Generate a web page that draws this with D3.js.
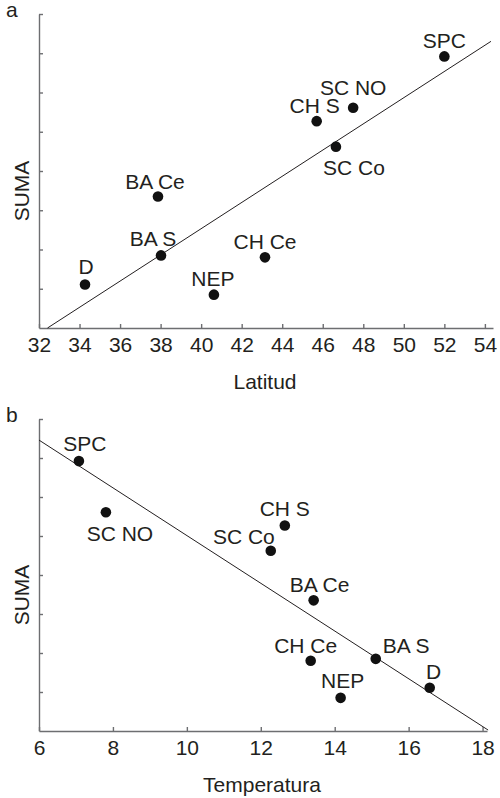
<!DOCTYPE html>
<meta charset="utf-8">
<style>
    body { margin: 0; background: #fff; }
    text { font-family: "Liberation Sans", Arial, sans-serif; fill: #231f20; }
    .axis path, .axis line { stroke: #6d6e71; stroke-width: 1.4; }
    .axis text { font-size: 21px; fill: #231f20; }
</style>
<body>
<script src="https://cdn.jsdelivr.net/npm/d3@7"></script>
<script>

    var width = 500,
        height = 798;

    // sites, shared by both panels
    var sites = ["D", "BA S", "BA Ce", "NEP", "CH Ce", "CH S", "SC Co", "SC NO", "SPC"];
    var latitud = [34.27, 38.02, 37.87, 40.63, 43.15, 45.7, 46.65, 47.5, 52.0];
    var temperatura = [16.57, 15.11, 13.43, 14.16, 13.35, 12.65, 12.27, 7.81, 7.08];
    var suma = [1.11, 1.85, 3.35, 0.85, 1.80, 5.27, 4.62, 5.61, 6.92];

    var latTicks = d3.range(32, 55, 2),
        tempTicks = d3.range(6, 19, 2),
        sumaTicks = d3.range(1, 9);

    // where each site label sits relative to its dot: [dx, dy, anchor]
    var labelPosA = {
        "SPC": [0, -8, "middle"], "SC NO": [0, -13, "middle"], "CH S": [-2, -8, "middle"],
        "SC Co": [18, 28, "middle"], "BA Ce": [-3, -8, "middle"], "BA S": [-8, -9, "middle"],
        "D": [1, -10, "middle"], "NEP": [-1, -9, "middle"], "CH Ce": [0, -8, "middle"]
    };
    var labelPosB = {
        "SPC": [6, -10, "middle"], "SC NO": [14, 29, "middle"], "CH S": [0, -9, "middle"],
        "SC Co": [4, -7, "end"], "BA Ce": [6, -8, "middle"], "CH Ce": [-5, -8, "middle"],
        "BA S": [7, -6, "start"], "D": [4, -9, "middle"], "NEP": [2, -10, "middle"]
    };

    function linReg(xs, ys) {
        var mx = d3.mean(xs), my = d3.mean(ys);
        var sxy = d3.sum(xs, function(d, i) { return (d - mx) * (ys[i] - my); });
        var sxx = d3.sum(xs, function(d) { return (d - mx) * (d - mx); });
        var b = sxy / sxx;
        return { slope: b, intercept: my - b * mx };
    }

    var svg = d3.select("body").append("svg")
        .attr("width", width)
        .attr("height", height);

    function panel(opt) {
        var x = d3.scaleLinear().domain(opt.xDomain).range([39, opt.xRight]);
        var y = d3.scaleLinear().domain([0, 8]).range([opt.bottom, opt.top]);
        var g = svg.append("g");

        g.append("g")
            .attr("class", "axis")
            .attr("transform", "translate(0," + opt.bottom + ")")
            .call(d3.axisBottom(x).tickValues(opt.xTicks).tickSize(-4).tickSizeOuter(0).tickPadding(9))
            .call(function(a) { a.selectAll("text").attr("fill", "#231f20"); });

        g.append("g")
            .attr("class", "axis")
            .attr("transform", "translate(39,0)")
            .call(d3.axisLeft(y).tickValues(sumaTicks).tickSize(-4).tickSizeOuter(0).tickFormat(""));

        // fitted line
        var fit = linReg(opt.xs, suma);
        var x0 = opt.lineFrom(fit), x1 = opt.lineTo(fit);
        g.append("line")
            .attr("x1", x(x0)).attr("y1", y(fit.intercept + fit.slope * x0))
            .attr("x2", x(x1)).attr("y2", y(fit.intercept + fit.slope * x1))
            .attr("stroke", "#231f20")
            .attr("stroke-width", 1);

        g.selectAll("circle")
            .data(sites)
            .enter().append("circle")
            .attr("cx", function(d, i) { return x(opt.xs[i]); })
            .attr("cy", function(d, i) { return y(suma[i]); })
            .attr("r", 5.3)
            .attr("fill", "#111");

        g.selectAll("text.site")
            .data(sites)
            .enter().append("text")
            .attr("class", "site")
            .attr("x", function(d, i) { return x(opt.xs[i]) + opt.labels[d][0]; })
            .attr("y", function(d, i) { return y(suma[i]) + opt.labels[d][1]; })
            .attr("text-anchor", function(d) { return opt.labels[d][2]; })
            .style("font-size", "21px")
            .text(function(d) { return d; });

        g.append("text")
            .attr("x", opt.titleX)
            .attr("y", opt.bottom + 61)
            .attr("text-anchor", "middle")
            .style("font-size", "21px")
            .text(opt.title);

        g.append("text")
            .attr("transform", "translate(29," + ((opt.top + opt.bottom) / 2 + 20) + ") rotate(-90)")
            .attr("text-anchor", "middle")
            .style("font-size", "21px")
            .text("SUMA");

        g.append("text")
            .attr("x", 6)
            .attr("y", opt.top + 3)
            .style("font-size", "21px")
            .text(opt.letter);
    }

    panel({
        xs: latitud, xDomain: [32, 54.4], xRight: 493, xTicks: latTicks,
        top: 14, bottom: 328, labels: labelPosA,
        title: "Latitud", titleX: 265, letter: "a",
        lineFrom: function(f) { return -f.intercept / f.slope; },
        lineTo: function() { return 54.3; }
    });

    panel({
        xs: temperatura, xDomain: [6, 18.12], xRight: 487, xTicks: tempTicks,
        top: 419, bottom: 731, labels: labelPosB,
        title: "Temperatura", titleX: 262, letter: "b",
        lineFrom: function() { return 6; },
        lineTo: function(f) { return Math.min(-f.intercept / f.slope, 18.15); }
    });

</script>
